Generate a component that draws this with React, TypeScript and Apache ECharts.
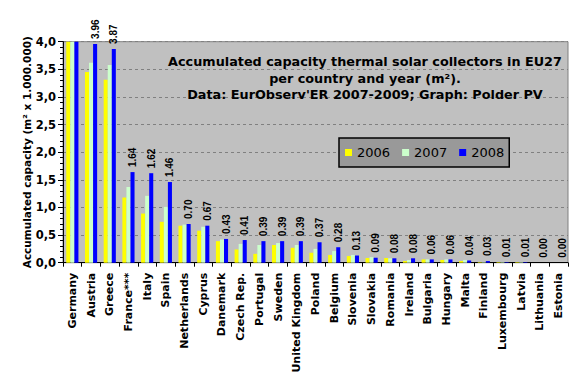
import React, { useEffect, useRef } from "react";
import * as echarts from "echarts";

const countries = [
  "Germany", "Austria", "Greece", "France***", "Italy", "Spain", "Netherlands", "Cyprus",
  "Danemark", "Czech Rep.", "Portugal", "Sweden", "United Kingdom", "Poland", "Belgium",
  "Slovenia", "Slovakia", "Romania", "Ireland", "Bulgaria", "Hungary", "Malta", "Finland",
  "Luxembourg", "Latvia", "Lithuania", "Estonia",
];
const y2006 = [
  7.77, 3.45, 3.31, 1.18, 0.89, 0.74, 0.67, 0.58, 0.39, 0.24, 0.16, 0.32, 0.27, 0.18, 0.14,
  0.12, 0.085, 0.085, 0.03, 0.06, 0.05, 0.03, 0.01, 0.01, 0.01, 0.0, 0.0,
];
const y2007 = [
  8.72, 3.62, 3.58, 1.37, 1.21, 1.01, 0.69, 0.65, 0.42, 0.34, 0.32, 0.355, 0.32, 0.25, 0.21,
  0.14, 0.1, 0.08, 0.05, 0.06, 0.06, 0.05, 0.01, 0.01, 0.01, 0.0, 0.0,
];
const y2008 = [
  11.09, 3.96, 3.87, 1.64, 1.62, 1.46, 0.7, 0.67, 0.43, 0.41, 0.39, 0.39, 0.39, 0.37, 0.28,
  0.13, 0.09, 0.08, 0.08, 0.06, 0.06, 0.04, 0.03, 0.01, 0.01, 0.0, 0.0,
];
const seriesNames = ["2006", "2007", "2008"];
const titleLines = [
  "Accumulated capacity thermal solar collectors in EU27",
  "per country and year (m²).",
  "Data: EurObserv'ER 2007-2009; Graph: Polder PV",
];
const yAxisName = "Accumulated capacity (m² x 1.000.000)";

const FONT = "DejaVu Sans";

export default function App() {
  const ref = useRef<HTMLDivElement>(null);
  useEffect(() => {
    if (!ref.current) return;
    const chart = echarts.init(ref.current, null, { renderer: "svg" });
    const label2008 = y2008.map((v, i) =>
      i === 0 ? { value: v, label: { show: false } } : v
    );
    chart.setOption({
      animation: false,
      backgroundColor: "#ffffff",
      textStyle: { fontFamily: FONT },
      title: {
        text: titleLines.join("\n"),
        left: 360,
        top: 48,
        textAlign: "center",
        textStyle: {
          fontFamily: FONT,
          fontSize: 12.8,
          fontWeight: "bold",
          color: "#000",
          lineHeight: 16.7,
        },
      },
      legend: {
        left: 339,
        top: 138,
        orient: "horizontal",
        backgroundColor: "#999999",
        borderColor: "#000000",
        borderWidth: 1.5,
        padding: [8, 5, 8, 6],
        itemWidth: 7,
        itemHeight: 7,
        itemGap: 12,
        icon: "rect",
        textStyle: { fontFamily: FONT, fontSize: 13, color: "#000" },
        data: seriesNames,
      },
      grid: {
        left: 63,
        top: 41.7,
        right: 13,
        bottom: 118.3,
        show: true,
        backgroundColor: "#C0C0C0",
        borderColor: "#808080",
        borderWidth: 1,
        containLabel: false,
      },
      xAxis: {
        type: "category",
        data: countries,
        boundaryGap: true,
        axisLine: { show: true, lineStyle: { color: "#000", width: 1 } },
        axisTick: { show: true, alignWithLabel: false, length: 4, lineStyle: { color: "#000" } },
        axisLabel: {
          interval: 0,
          rotate: 90,
          margin: 10,
          fontFamily: FONT,
          fontSize: 11,
          fontWeight: "bold",
          color: "#000",
        },
      },
      yAxis: {
        type: "value",
        min: 0,
        max: 4,
        interval: 0.5,
        name: yAxisName,
        nameLocation: "middle",
        nameGap: 31,
        nameMoveOverlap: false,
        nameTextStyle: { fontFamily: FONT, fontSize: 10.5, fontWeight: "bold", color: "#000" },
        axisLine: { show: true, lineStyle: { color: "#000", width: 1 } },
        axisTick: { show: true, length: 5, lineStyle: { color: "#000" } },
        minorTick: { show: true, splitNumber: 5, length: 3, lineStyle: { color: "#000" } },
        axisLabel: {
          fontFamily: FONT,
          fontSize: 11.5,
          fontWeight: "bold",
          color: "#000",
          margin: 7,
          formatter: (v: number) => v.toFixed(1).replace(".", ","),
        },
        splitLine: { show: true, lineStyle: { color: "#808080", type: [3, 3], width: 1 } },
      },
      series: [
        {
          name: seriesNames[0],
          type: "bar",
          data: y2006,
          barGap: "0%",
          barCategoryGap: "35%",
          itemStyle: { color: "#FFFF00" },
        },
        {
          name: seriesNames[1],
          type: "bar",
          data: y2007,
          barGap: "0%",
          barCategoryGap: "35%",
          itemStyle: { color: "#CCFFCC" },
        },
        {
          name: seriesNames[2],
          type: "bar",
          data: label2008,
          barGap: "0%",
          barCategoryGap: "35%",
          itemStyle: { color: "#0000FF" },
          label: {
            show: true,
            position: "top",
            rotate: 90,
            align: "left",
            verticalAlign: "middle",
            distance: 5,
            fontFamily: "Liberation Sans Narrow, Liberation Sans, sans-serif",
            fontSize: 10,
            fontWeight: "bold",
            color: "#000",
            formatter: (p: any) => Number(p.value).toFixed(2),
          },
        },
      ],
    });
    return () => chart.dispose();
  }, []);
  return (
    <div
      ref={ref}
      style={{ position: "absolute", left: 0, top: 0, width: 581, height: 381 }}
    />
  );
}
